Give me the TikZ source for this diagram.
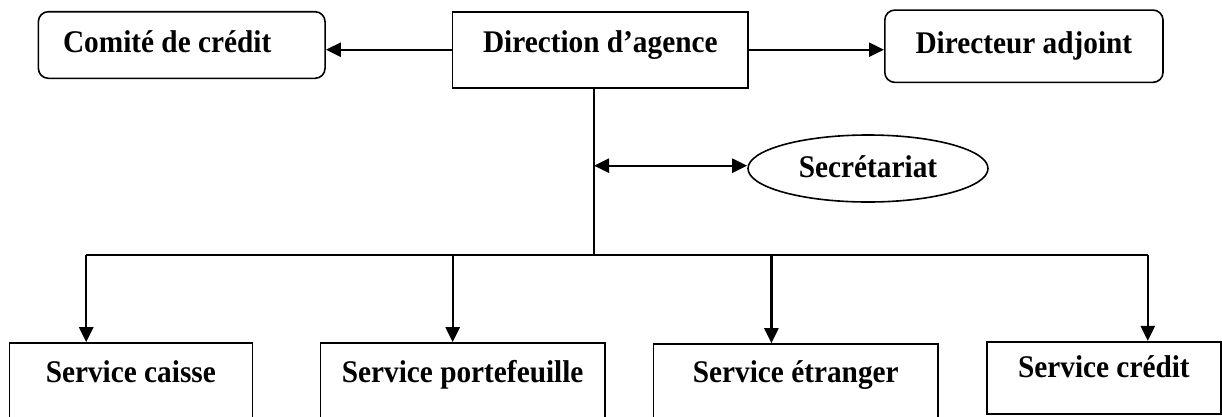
\documentclass[tikz,border=0pt]{standalone}
\usepackage{fontspec}
\setmainfont{Liberation Serif}
\newfontfamily\boxfont[FakeStretch=0.93]{Liberation Serif}
\usetikzlibrary{arrows.meta,shapes.geometric}
\begin{document}
\begin{tikzpicture}[x=1pt,y=-1pt,
  lbl/.style={font=\boxfont\fontsize{31.5}{36}\selectfont\bfseries, inner sep=0pt,
              draw, line width=1.6pt},
  box/.style={lbl, rectangle},
  rbox/.style={lbl, rectangle, rounded corners=10pt},
  oval/.style={lbl, ellipse},
  link/.style={line width=2.4pt, -{Triangle[length=15pt,width=14pt]}},
  dlink/.style={line width=2.4pt, {Triangle[length=15pt,width=14pt]}-{Triangle[length=15pt,width=14pt]}},
  trunk/.style={line width=1.7pt}]
\useasboundingbox (0,0) rectangle (1222,416);

% top row
\node[rbox, minimum width=286.7pt, inner xsep=24.7pt,
      text height=40.3pt, text depth=26.3pt] (com) at (181.7,45)
      {\makebox[237.3pt][l]{Comité de crédit}};
\node[box, minimum width=295.3pt, text height=40.8pt, text depth=35.2pt]
      (dir) at (600.3,49.7) {Direction d’agence};
\node[rbox, minimum width=278.2pt, text height=43pt, text depth=29.3pt]
      (adj) at (1023.9,46.2) {Directeur adjoint};

% secretariat
\node[oval, minimum width=240pt, minimum height=67pt, text height=20.9pt, text depth=3.3pt]
      (sec) at (868,168.5) {Secrétariat};

% services
\node[box, minimum width=243pt, text height=39pt, text depth=36pt]
      (cai) at (130.8,380.5) {Service caisse};
\node[box, minimum width=284.7pt, text height=39pt, text depth=36pt]
      (por) at (462.65,380.5) {Service portefeuille};
\node[box, minimum width=284.5pt, text height=38.5pt, text depth=35.5pt]
      (etr) at (795.75,381) {Service étranger};
\node[box, minimum width=234.3pt, text height=35.6pt, text depth=36.7pt]
      (cre) at (1103.85,377.85) {Service crédit};

% junction points
\coordinate (hub) at (594,255);
\coordinate (tap) at (594,165.7);
\coordinate (d1) at (86.2,255);
\coordinate (d2) at (452.7,255);
\coordinate (d3) at (771.4,255);
\coordinate (d4) at (1147.8,255);

% connectors
\draw[link] (dir.west) -- (dir.west -| com.east);
\draw[link] (dir.east) -- (dir.east -| adj.west);
\draw[trunk] (dir.south -| hub) -- (hub);
\draw[dlink] (tap) -- (tap -| sec.west);
\draw[trunk] (d1) -- (d4);
\draw[link] (d1) -- (d1 |- cai.north);
\draw[link] (d2) -- (d2 |- por.north);
\draw[link] (d3) -- (d3 |- etr.north);
\draw[link] (d4) -- (d4 |- cre.north);
\end{tikzpicture}
\end{document}
